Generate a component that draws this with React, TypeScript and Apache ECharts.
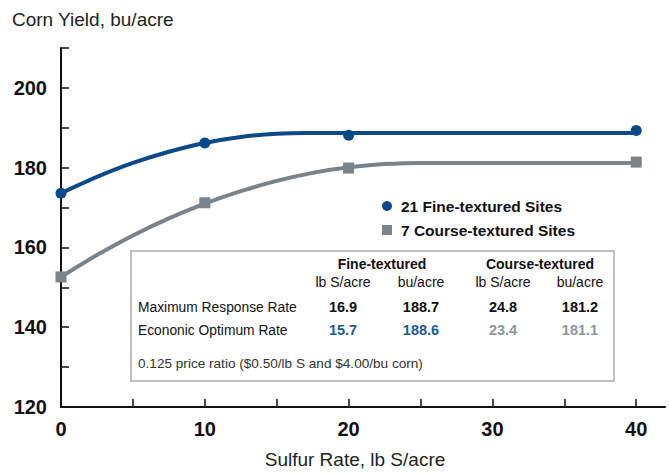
import React, { useEffect, useRef } from "react";
import * as echarts from "echarts";

// Fitted response curves
const fineCurveX = [0, 2.5, 5, 7.5, 10, 12.5, 15, 17, 20, 30, 40];
const fineCurveY = [173.6, 177.7, 181.2, 184.0, 186.2, 187.7, 188.5, 188.7, 188.7, 188.7, 188.7];
const coarseCurveX = [0, 2.5, 5, 7.5, 10, 12.5, 15, 17.5, 20, 22.5, 25, 30, 40];
const coarseCurveY = [152.6, 158.1, 163.0, 167.3, 171.0, 174.1, 176.7, 178.7, 180.1, 180.9, 181.2, 181.2, 181.2];

// Observed means
const fineObsX = [0, 10, 20, 40];
const fineObsY = [173.6, 186.2, 188.1, 189.3];
const coarseObsX = [0, 10, 20, 40];
const coarseObsY = [152.6, 171.2, 179.9, 181.4];

const seriesNames = ["21 Fine-textured Sites", "7 Course-textured Sites"];

const xTicks = [0, 5, 10, 15, 20, 25, 30, 35, 40];
const xLabels = [0, 10, 20, 30, 40];
const yTicks = [130, 140, 150, 160, 170, 180, 190, 200, 210];
const yLabels = [120, 140, 160, 180, 200];

// Table
const groupHeaders = ["Fine-textured", "Course-textured"];
const colUnits = ["lb S/acre", "bu/acre", "lb S/acre", "bu/acre"];
const rowLabels = ["Maximum Response Rate", "Econonic Optimum Rate"];
const maxResponse = ["16.9", "188.7", "24.8", "181.2"];
const econOptimum = ["15.7", "188.6", "23.4", "181.1"];
const footnote = "0.125 price ratio ($0.50/lb S and $4.00/bu corn)";

const BLUE = "#0b4a89";
const GRAY = "#7a8389";
const BLUE_TXT = "#1b5a98";
const GRAY_TXT = "#8d959a";
const FONT = "'Liberation Sans', Arial, sans-serif";

export default function App() {
  const ref = useRef<HTMLDivElement>(null);
  useEffect(() => {
    if (!ref.current) return;
    const chart = echarts.init(ref.current, undefined, { renderer: "svg" });
    const pair = (xs: number[], ys: number[]) => xs.map((x, i) => [x, ys[i]]);

    const colX = [343, 421, 503, 580];
    const groupX = [382, 540];
    const tableTexts: any[] = [];
    groupHeaders.forEach((t, i) =>
      tableTexts.push({
        type: "text", x: groupX[i], y: 264,
        style: { text: t, fill: "#111", font: `bold 14px ${FONT}`, align: "center", verticalAlign: "middle" },
      })
    );
    colUnits.forEach((t, i) =>
      tableTexts.push({
        type: "text", x: colX[i], y: 282,
        style: { text: t, fill: "#111", font: `14px ${FONT}`, align: "center", verticalAlign: "middle" },
      })
    );
    rowLabels.forEach((t, i) =>
      tableTexts.push({
        type: "text", x: 138, y: i === 0 ? 307 : 330,
        style: { text: t, fill: "#111", font: `13.8px ${FONT}`, align: "left", verticalAlign: "middle" },
      })
    );
    maxResponse.forEach((t, i) =>
      tableTexts.push({
        type: "text", x: colX[i], y: 307,
        style: { text: t, fill: "#111", font: `bold 14.5px ${FONT}`, align: "center", verticalAlign: "middle" },
      })
    );
    econOptimum.forEach((t, i) =>
      tableTexts.push({
        type: "text", x: colX[i], y: 330,
        style: { text: t, fill: i < 2 ? BLUE_TXT : GRAY_TXT, font: `bold 14.5px ${FONT}`, align: "center", verticalAlign: "middle" },
      })
    );
    tableTexts.push({
      type: "text", x: 138, y: 363,
      style: { text: footnote, fill: "#333", font: `13.6px ${FONT}`, align: "left", verticalAlign: "middle" },
    });

    chart.setOption({
      animation: false,
      backgroundColor: "#fff",
      title: {
        text: "Corn Yield, bu/acre",
        left: 12,
        top: 10,
        padding: 0,
        textStyle: { fontFamily: FONT, fontSize: 19, fontWeight: "normal", color: "#222", lineHeight: 19 },
      },
      grid: { left: 61, right: 4, top: 48, bottom: 64, containLabel: false },
      legend: {
        data: seriesNames,
        orient: "vertical",
        left: 377,
        top: 193,
        itemWidth: 10,
        itemHeight: 10,
        itemGap: 8,
        textStyle: { fontFamily: FONT, fontSize: 15.5, fontWeight: "bold", color: "#111", lineHeight: 16, padding: [0, 0, 0, 4] },
        selectedMode: false,
      },
      xAxis: {
        type: "value",
        min: 0,
        max: 42,
        interval: 5,
        name: "Sulfur Rate, lb S/acre",
        nameLocation: "middle",
        nameGap: 43,
        nameTextStyle: { fontFamily: FONT, fontSize: 19, color: "#222", padding: [0, 16, 0, 0] },
        axisLine: { show: true, lineStyle: { color: "#111", width: 2 } },
        axisTick: { show: true, inside: true, length: 8, customValues: xTicks, lineStyle: { color: "#111", width: 1.5 } },
        axisLabel: { customValues: xLabels, fontFamily: FONT, fontSize: 20, fontWeight: "bold", color: "#111", margin: 12 },
        splitLine: { show: false },
      },
      yAxis: {
        type: "value",
        min: 120,
        max: 210,
        interval: 10,
        axisLine: { show: true, lineStyle: { color: "#111", width: 2 } },
        axisTick: { show: true, inside: true, length: 8, customValues: yTicks, lineStyle: { color: "#111", width: 1.5 } },
        axisLabel: { customValues: yLabels, fontFamily: FONT, fontSize: 20, fontWeight: "bold", color: "#111", margin: 14 },
        splitLine: { show: false },
      },
      series: [
        {
          type: "line",
          data: pair(fineCurveX, fineCurveY),
          smooth: 0.3,
          showSymbol: false,
          lineStyle: { color: BLUE, width: 4 },
          z: 2,
          silent: true,
        },
        {
          type: "line",
          data: pair(coarseCurveX, coarseCurveY),
          smooth: 0.3,
          showSymbol: false,
          lineStyle: { color: GRAY, width: 4 },
          z: 2,
          silent: true,
        },
        {
          name: seriesNames[0],
          type: "scatter",
          symbol: "circle",
          symbolSize: 11,
          data: pair(fineObsX, fineObsY),
          itemStyle: { color: BLUE, opacity: 1 },
          z: 4,
        },
        {
          name: seriesNames[1],
          type: "scatter",
          symbol: "rect",
          symbolSize: 11,
          data: pair(coarseObsX, coarseObsY),
          itemStyle: { color: GRAY, opacity: 1 },
          z: 4,
        },
      ],
      graphic: [
        {
          type: "rect",
          shape: { x: 131, y: 251, width: 483, height: 130 },
          style: { fill: "#fff", stroke: "#aaaaaa", lineWidth: 1.5 },
          z: 10,
        },
        ...tableTexts.map((t) => ({ ...t, z: 11 })),
      ],
    });
    return () => chart.dispose();
  }, []);
  return <div ref={ref} style={{ width: 669, height: 474, position: "absolute", left: 0, top: 0 }} />;
}
